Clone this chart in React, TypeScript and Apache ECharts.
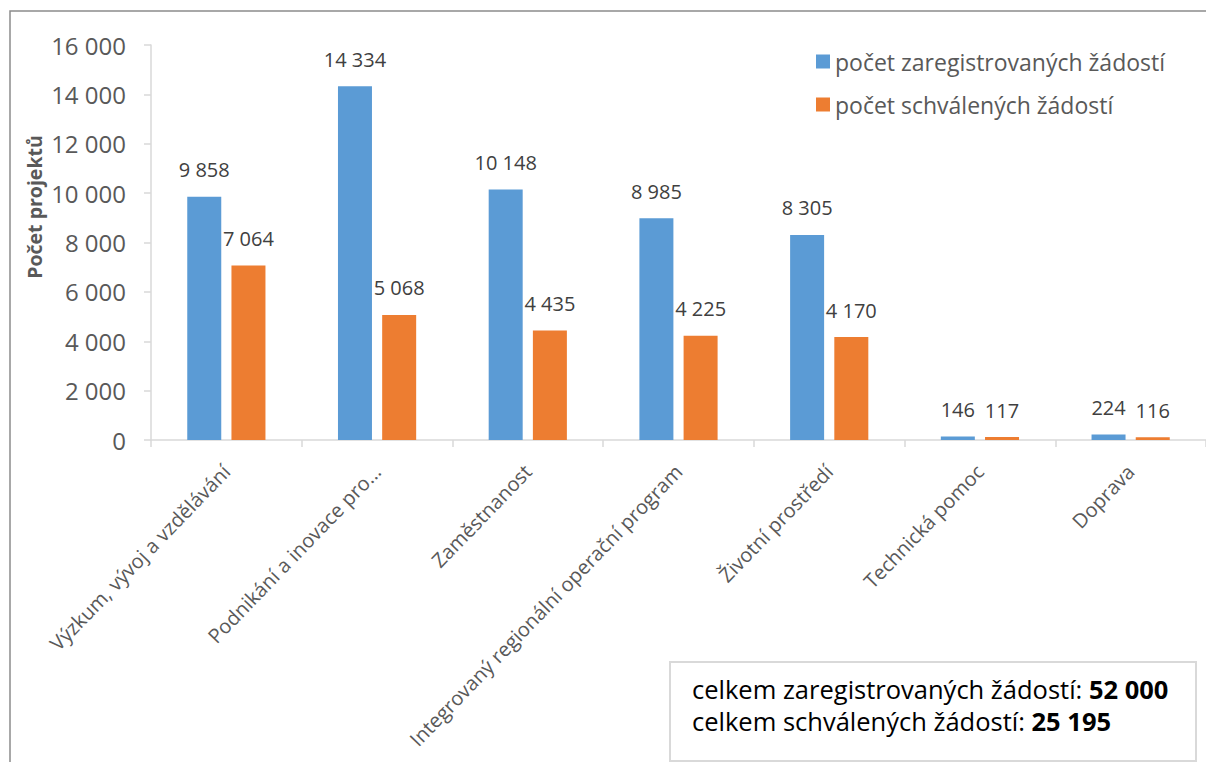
import React, { useEffect, useRef } from "react";
import * as echarts from "echarts";

const categories = [
  "Výzkum, vývoj a vzdělávání",
  "Podnikání a inovace pro...",
  "Zaměstnanost",
  "Integrovaný regionální operační program",
  "Životní prostředí",
  "Technická pomoc",
  "Doprava",
];
const registered = [9858, 14334, 10148, 8985, 8305, 146, 224];
const approved = [7064, 5068, 4435, 4225, 4170, 117, 116];
const seriesNames = ["počet zaregistrovaných žádostí", "počet schválených žádostí"];
const yTicks = { min: 0, max: 16000, interval: 2000 };
const yTitle = "Počet projektů";

const fmt = (v: number) => String(Math.round(v)).replace(/\B(?=(\d{3})+(?!\d))/g, " ");
const sum = (a: number[]) => a.reduce((s, x) => s + x, 0);

const FONT = "'Open Sans', 'Noto Sans', sans-serif";

export default function App() {
  const ref = useRef<HTMLDivElement>(null);
  useEffect(() => {
    if (!ref.current) return;
    const chart = echarts.init(ref.current, null, { renderer: "svg" });
    const labelStyle = {
      show: true,
      position: "top" as const,
      distance: 17,
      color: "#404040",
      fontSize: 20,
      fontFamily: FONT,
      formatter: (p: any) => fmt(p.value),
    };
    const boxRich = {
      n: { fontSize: 25.5, fill: "#000", fontFamily: FONT },
      b: { fontSize: 25.5, fill: "#000", fontWeight: "bold", fontFamily: FONT },
    };
    chart.setOption({
      animation: false,
      textStyle: { fontFamily: FONT },
      grid: { left: 151, top: 45, width: 1059, bottom: 322, containLabel: false },
      legend: {
        orient: "vertical",
        left: 811,
        top: 45,
        itemWidth: 14,
        itemHeight: 14,
        itemGap: 20,
        icon: "rect",
        textStyle: { color: "#595959", fontSize: 23, fontFamily: FONT },
        data: seriesNames,
      },
      xAxis: {
        type: "category",
        data: categories,
        axisLine: { lineStyle: { color: "#d9d9d9", width: 1.5 } },
        axisTick: { show: true, length: 7, lineStyle: { color: "#d9d9d9", width: 1.5 } },
        axisLabel: {
          rotate: 46,
          interval: 0,
          margin: 28,
          color: "#595959",
          fontSize: 20,
          fontFamily: FONT,
        },
      },
      yAxis: {
        type: "value",
        min: yTicks.min,
        max: yTicks.max,
        interval: yTicks.interval,
        splitLine: { show: false },
        axisLine: { show: true, lineStyle: { color: "#d9d9d9", width: 1.5 } },
        axisTick: { show: true, length: 7, lineStyle: { color: "#d9d9d9", width: 1.5 } },
        axisLabel: {
          color: "#595959",
          fontSize: 24,
          margin: 25,
          fontFamily: FONT,
          formatter: (v: number) => fmt(v),
        },
      },
      series: [
        {
          name: seriesNames[0],
          type: "bar",
          data: registered,
          barWidth: 34,
          barGap: "30%",
          itemStyle: { color: "#5b9bd5" },
          label: labelStyle,
        },
        {
          name: seriesNames[1],
          type: "bar",
          data: approved,
          barWidth: 34,
          itemStyle: { color: "#ed7d31" },
          label: labelStyle,
        },
      ],
      graphic: [
        {
          type: "rect",
          silent: true,
          shape: { x: 10, y: 11, width: 1400, height: 1000 },
          style: { fill: "none", stroke: "#8c8c8c", lineWidth: 1.5 },
        },
        {
          type: "text",
          x: 34,
          y: 207,
          rotation: Math.PI / 2,
          style: {
            text: yTitle,
            align: "center",
            verticalAlign: "middle",
            fill: "#595959",
            fontSize: 19.5,
            fontWeight: "bold",
            fontFamily: FONT,
          },
        },
        {
          type: "rect",
          shape: { x: 670, y: 662, width: 526, height: 99 },
          style: { fill: "#fff", stroke: "#d9d9d9", lineWidth: 2 },
        },
        {
          type: "text",
          x: 692,
          y: 689,
          style: {
            text: `{n|celkem zaregistrovaných žádostí: }{b|${fmt(sum(registered))}}`,
            verticalAlign: "middle",
            rich: boxRich,
          },
        },
        {
          type: "text",
          x: 692,
          y: 721,
          style: {
            text: `{n|celkem schválených žádostí: }{b|${fmt(sum(approved))}}`,
            verticalAlign: "middle",
            rich: boxRich,
          },
        },
      ],
    });
    return () => chart.dispose();
  }, []);
  return (
    <div
      ref={ref}
      style={{ position: "absolute", left: 0, top: 0, width: 1206, height: 762, background: "#fff" }}
    />
  );
}
